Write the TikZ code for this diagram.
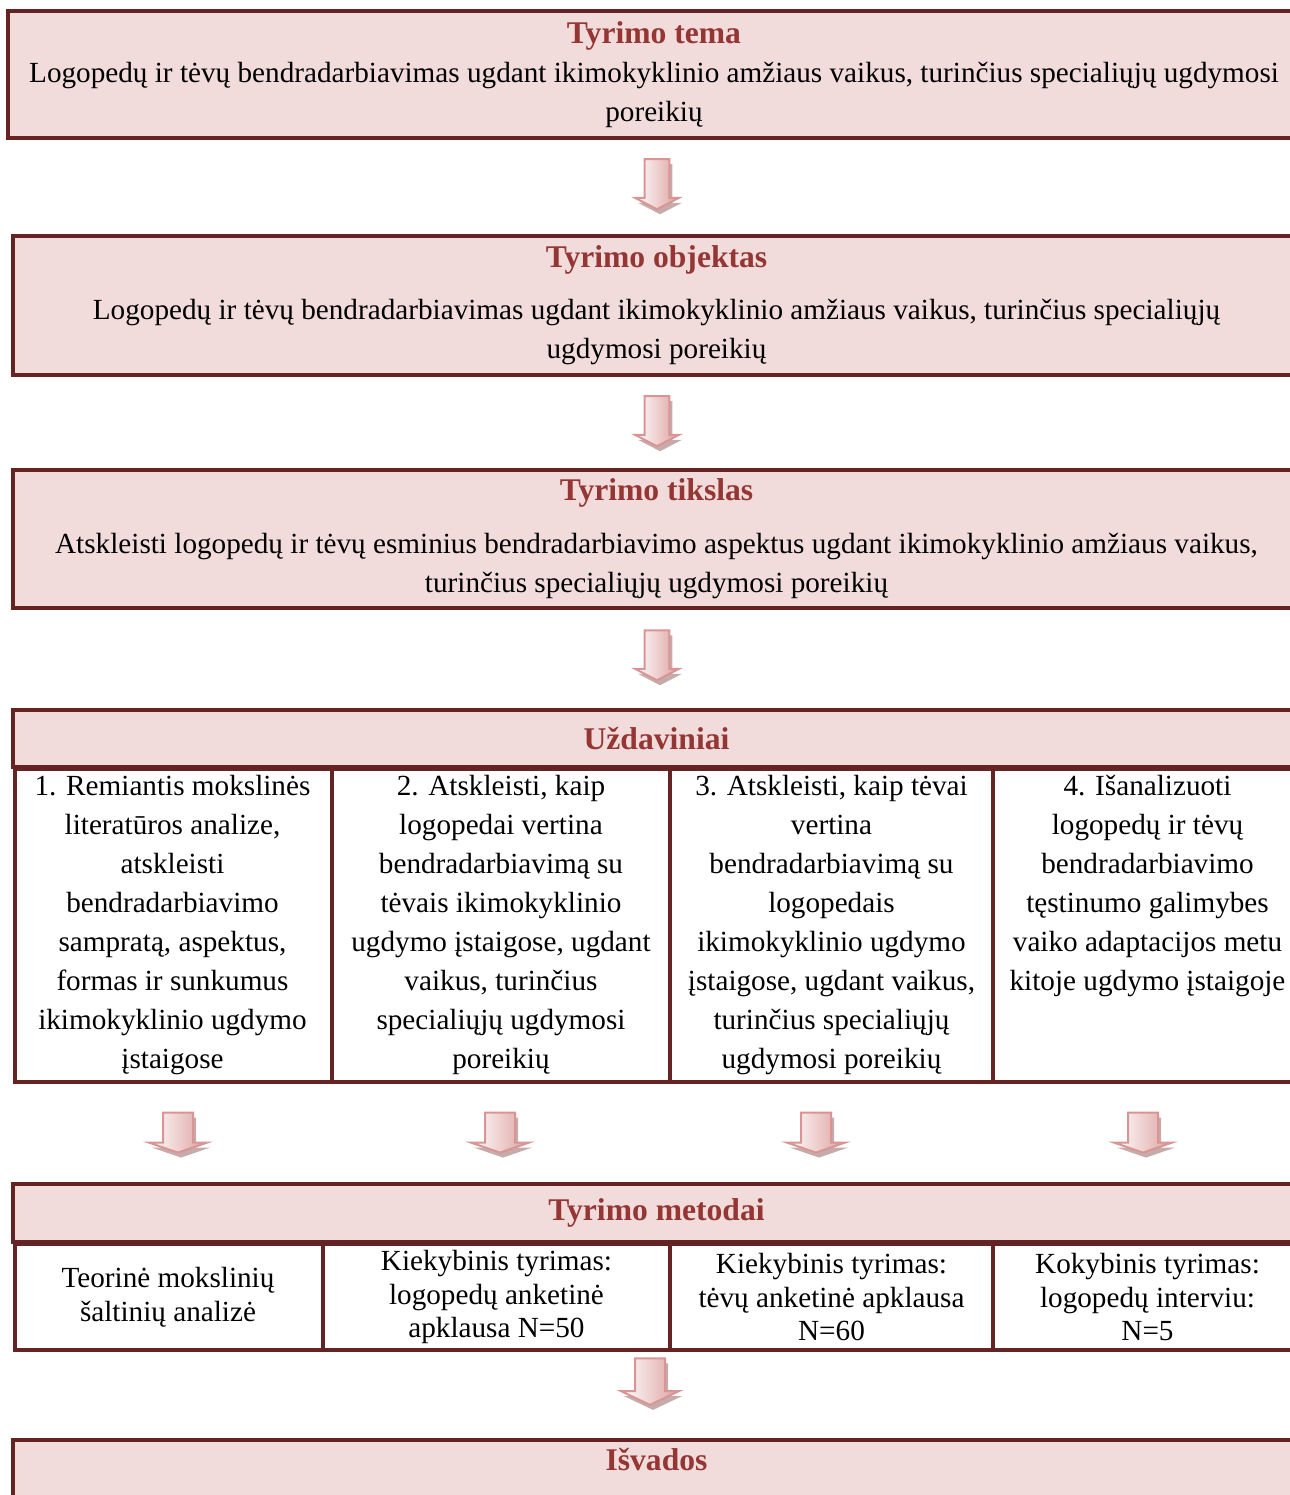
\documentclass[tikz,border=0pt]{standalone}
\usepackage{fontspec}
\setmainfont{Liberation Serif}
\usetikzlibrary{calc,shapes.multipart,shapes.arrows,shadows}

\definecolor{remelis}{HTML}{632423}
\definecolor{fonas}{HTML}{F2DBDB}
\definecolor{antraste}{HTML}{943634}
\definecolor{rodlinija}{HTML}{D99594}
\definecolor{rodfonas}{HTML}{DDA09F}
\definecolor{seselis}{HTML}{9E7473}

\newcommand{\tekstas}{\fontsize{21.9pt}{29.25pt}\selectfont}
\newcommand{\metod}{\fontsize{21.9pt}{25.1pt}\selectfont}
\newcommand{\antr}[1]{{\fontsize{23.7pt}{29.25pt}\selectfont\bfseries\color{antraste}#1}}
\newcommand{\langel}[2]{\parbox[t]{#1}{\centering\tekstas #2}}
\newcommand{\metlangel}[2]{\parbox{#1}{\centering\metod #2}}

\begin{document}
\begin{tikzpicture}[x=0.75pt,y=-0.75pt,
  dezute/.style={rectangle, draw=remelis, line width=3pt, fill=fonas, align=center, inner sep=0pt, font=\tekstas},
  lentele/.style={rectangle split, rectangle split horizontal, rectangle split parts=#1, rectangle split draw splits=true, draw=remelis, line width=3pt, fill=white, inner xsep=0pt, anchor=north west},
  rodykle/.style={single arrow, draw=rodlinija, line width=1.5pt, left color=white, right color=rodfonas, rotate=-90, inner xsep=0pt, inner ysep=8.6pt, single arrow head extend=7pt, single arrow tip angle=125, minimum height=37.5pt, drop shadow={shadow xshift=2.25pt, shadow yshift=-3.75pt, fill=seselis, opacity=.6}},
  plati/.style={rodykle, inner ysep=10.5pt, single arrow head extend=10.5pt, single arrow tip angle=142, minimum height=30pt}]
\useasboundingbox (0,0) rectangle (1289,1495);

% tema, objektas, tikslas
\node[dezute, minimum width=969pt, minimum height=95.25pt] (tema) at (654,74.5)
{\antr{Tyrimo tema}\\
Logopedų ir tėvų bendradarbiavimas ugdant ikimokyklinio amžiaus vaikus, turinčius specialiųjų ugdymosi\\
poreikių};
\node[dezute, minimum width=965.25pt, minimum height=104.25pt] (objektas) at (656.5,305)
{\antr{Tyrimo objektas}\\[10pt]
Logopedų ir tėvų bendradarbiavimas ugdant ikimokyklinio amžiaus vaikus, turinčius specialiųjų\\
ugdymosi poreikių};
\node[dezute, minimum width=965.25pt, minimum height=103.5pt] (tikslas) at (656.5,539)
{\antr{Tyrimo tikslas}\\[10.5pt]
Atskleisti logopedų ir tėvų esminius bendradarbiavimo aspektus ugdant ikimokyklinio amžiaus vaikus,\\
turinčius specialiųjų ugdymosi poreikių};

% uzdaviniai
\node[dezute, minimum width=965.25pt, minimum height=42.75pt] (uzd) at (656.5,738.5) {\antr{Uždaviniai}};
\node[lentele=4, rectangle split part align=top, inner ysep=5pt] (uzdl) at (13,767)
{\langel{236.25pt}{1. Remiantis mokslinės\\ literatūros analize,\\ atskleisti\\ bendradarbiavimo\\ sampratą, aspektus,\\ formas ir sunkumus\\ ikimokyklinio ugdymo\\ įstaigose}
\nodepart{two}\langel{250.5pt}{2. Atskleisti, kaip\\ logopedai vertina\\ bendradarbiavimą su\\ tėvais ikimokyklinio\\ ugdymo įstaigose, ugdant\\ vaikus, turinčius\\ specialiųjų ugdymosi\\ poreikių}
\nodepart{three}\langel{239.25pt}{3. Atskleisti, kaip tėvai\\ vertina\\ bendradarbiavimą su\\ logopedais\\ ikimokyklinio ugdymo\\ įstaigose, ugdant vaikus,\\ turinčius specialiųjų\\ ugdymosi poreikių}
\nodepart{four}\langel{228.75pt}{4. Išanalizuoti\\ logopedų ir tėvų\\ bendradarbiavimo\\ tęstinumo galimybes\\ vaiko adaptacijos metu\\ kitoje ugdymo įstaigoje}};

\node[rodykle] (r1) at (657,181) {};
\node[rodykle] (r2) at (657,418) {};
\node[rodykle] (r3) at (657,652) {};
\node[plati] (r4) at (178,1130) {};
\node[plati] (r5) at (500,1130) {};
\node[plati] (r6) at (816,1130) {};
\node[plati] (r7) at (1143,1130) {};

% metodai
\node[dezute, minimum width=965.25pt, minimum height=43.5pt] (met) at (656.5,1213) {\antr{Tyrimo metodai}};
\node[lentele=4, rectangle split part align=center, inner ysep=4.75pt] (metl) at (13,1242)
{\metlangel{229.5pt}{Teorinė mokslinių\\ šaltinių analizė}
\nodepart{two}\metlangel{257.25pt}{Kiekybinis tyrimas:\\ logopedų anketinė\\ apklausa N=50}
\nodepart{three}\metlangel{239.25pt}{Kiekybinis tyrimas:\\ tėvų anketinė apklausa\\ N=60}
\nodepart{four}\metlangel{228.75pt}{Kokybinis tyrimas:\\ logopedų interviu:\\ N=5}};

\node[plati, minimum height=35pt, single arrow tip angle=129] (r8) at (650,1378) {};

% isvados
\node[dezute, minimum width=965.25pt, anchor=north, inner ysep=6pt, text depth=25pt] (isv) at (656.5,1438) {\antr{Išvados}};
\end{tikzpicture}
\end{document}
